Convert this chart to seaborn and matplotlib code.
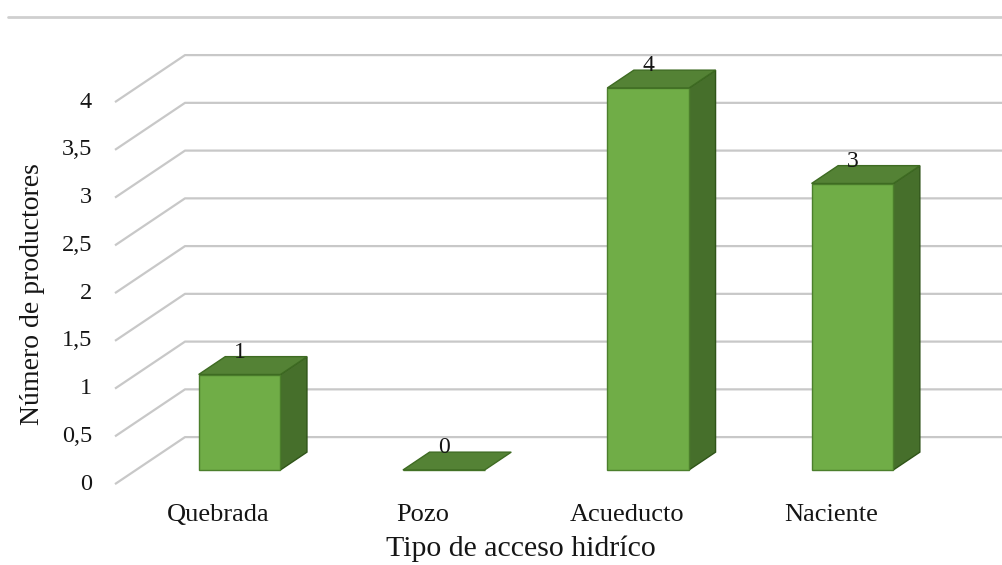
import matplotlib
matplotlib.use("Agg")
import matplotlib.pyplot as plt
import seaborn as sns
import pandas as pd
from matplotlib.patches import Polygon
from matplotlib.lines import Line2D

# ---- data ----
categorias = ["Quebrada", "Pozo", "Acueducto", "Naciente"]
valores = [1, 0, 4, 3]
ticks_y = [0, 0.5, 1, 1.5, 2, 2.5, 3, 3.5, 4]
etiquetas_y = ["0", "0,5", "1", "1,5", "2", "2,5", "3", "3,5", "4"]
titulo_x = "Tipo de acceso hidríco"
titulo_y = "Número de productores"

sns.set_theme(style="white")
plt.rcParams['font.family'] = ['Liberation Serif', 'DejaVu Serif']

W, H = 1002, 565
fig = plt.figure(figsize=(W / 100, H / 100), dpi=100)
ax = fig.add_axes([0, 0, 1, 1])

df = pd.DataFrame({"cat": categorias, "val": valores})
front = "#70AD47"
top_c = "#548235"
side_c = "#466F2B"
edge_c = "#4C7F2C"
txt = "#151515"

sns.barplot(data=df, x="cat", y="val", width=0.4, color=front,
            edgecolor=edge_c, linewidth=1.0, saturation=1, ax=ax, zorder=4)

# projection (pixel scale of the picture)
px_x0, px_per_x = 239.5, 204.3
px_y0, px_per_y = 470.0, 95.5
ax.set_xlim(-px_x0 / px_per_x, (W - px_x0) / px_per_x)
ax.set_ylim(-(H - px_y0) / px_per_y, px_y0 / px_per_y)
ax.axis('off')

DX = 70 / px_per_x
DY = 47 / px_per_y
D_REF = 0.3      # depth of bar front plane
D_BACK = 0.68    # depth of bar back plane


def P(x, v, d):
    return (x + (d - D_REF) * DX, v + (d - D_REF) * DY)


grid_left = (115 - px_x0) / px_per_x + D_REF * DX
grid_col = "#C8C8C8"
for v in ticks_y:
    pts = [P(grid_left, v, 0), P(grid_left, v, 1), P(6, v, 1)]
    ax.plot([p[0] for p in pts], [p[1] for p in pts], color=grid_col,
            lw=1.6, zorder=1, solid_capstyle='butt')

# tick labels
for v, lab in zip(ticks_y, etiquetas_y):
    x, y = P(grid_left, v, 0)
    ax.text(x - 23 / px_per_x, y, lab, ha='right', va='center',
            fontsize=17.5, color=txt)

# 3D faces
hw = 0.2
for i, v in enumerate(valores):
    top = [P(i - hw, v, D_REF), P(i + hw, v, D_REF), P(i + hw, v, D_BACK), P(i - hw, v, D_BACK)]
    ax.add_patch(Polygon(top, closed=True, facecolor=top_c, edgecolor="#3E6B22",
                         lw=1.0, zorder=5))
    if v > 0:
        side = [P(i + hw, 0, D_REF), P(i + hw, v, D_REF), P(i + hw, v, D_BACK), P(i + hw, 0, D_BACK)]
        ax.add_patch(Polygon(side, closed=True, facecolor=side_c, edgecolor="#2F5418",
                             lw=1.0, zorder=3))
    lx, ly = P(i, v, D_BACK)
    ax.text(i, ly - 1 / px_per_y, str(v), ha='center', va='baseline',
            fontsize=17, color=txt, zorder=6)
    cx, cy = P(i, -0.3, 0)
    ax.text(cx, (px_y0 - 515) / px_per_y, categorias[i], ha='center', va='center',
            fontsize=19, color=txt)

fig.text(521 / W, 1 - 549 / H, titulo_x, ha='center', va='center', fontsize=21.5,
         color=txt)
fig.text(33 / W, 1 - 294 / H, titulo_y, ha='center', va='center', fontsize=20,
         rotation=90, color=txt)

fig.add_artist(Line2D([8 / W, 1], [1 - 17 / H, 1 - 17 / H], color="#CFCFCF", lw=2))

fig.savefig("out.png", dpi=100)
